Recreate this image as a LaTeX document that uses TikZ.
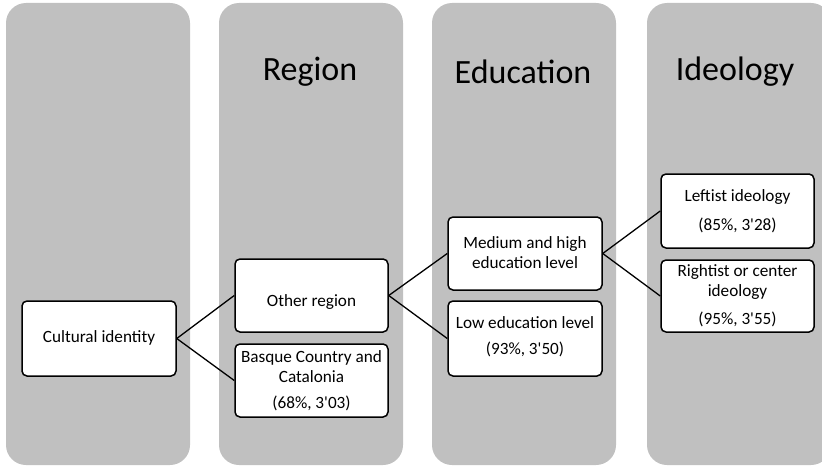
\documentclass[tikz,border=0pt]{standalone}
\usepackage{fontspec}
\setmainfont{Carlito}[Ligatures=TeXOff]
\definecolor{colgray}{RGB}{192,192,192}
\tikzset{
  column/.style={fill=colgray, draw=none, rounded corners=20pt},
  box/.style={draw=black, line width=1.5pt, fill=white, rounded corners=5pt, minimum width=#1, inner sep=0pt},
  box/.default=153pt,
  txt/.style={font=\fontsize{17.2}{20}\selectfont, align=center, inner sep=0pt, anchor=center},
  title/.style={font=\fontsize{34}{38}\selectfont, inner sep=0pt},
  conn/.style={line width=1.3pt}
}
\begin{document}
\begin{tikzpicture}[x=1pt,y=-1pt]
\useasboundingbox (0,0) rectangle (822,468);
\begin{scope}
\clip (0,0) rectangle (822,468);
\fill[column] (6,3) rectangle (190,465);
\fill[column] (219,3) rectangle (403,465);
\fill[column] (432,3) rectangle (616,465);
\fill[column] (647,3) rectangle (831,465);
\end{scope}
\node[title] (tregion) at (310,72) {Region};
\node[title] (teducation) at (523,72) {Education};
\node[title] (tideology) at (735,72) {Ideology};

% boxes
\node[box=154pt, minimum height=75pt] (cult) at (99,338.5) {};
\node[box, minimum height=73pt] (other) at (311.5,295.5) {};
\node[box, minimum height=73pt] (basque) at (311.5,380.5) {};
\node[box=154pt, minimum height=73pt] (medium) at (525,253.5) {};
\node[box=154pt, minimum height=75pt] (low) at (525,338.5) {};
\node[box, minimum height=74pt] (left) at (737.5,211) {};
\node[box, minimum height=72pt] (right) at (737.5,296) {};

% texts
\node[txt] (tcult) at (99,338) {Cultural identity};
\node[txt] (tother) at (311.5,302) {Other region};
\node[txt] (tbasque) at (311.5,367) {Basque Country and\\Catalonia};
\node[txt] (tbasque2) at (311.5,403) {(68\%, 3'03)};
\node[txt] (tmedium) at (525,252.5) {Medium and high\\education level};
\node[txt] (tlow) at (525,323) {Low education level};
\node[txt] (tlow2) at (525,349) {(93\%, 3'50)};
\node[txt] (tleft) at (737.5,197) {Leftist ideology};
\node[txt] (tleft2) at (737.5,225) {(85\%, 3'28)};
\node[txt] (tright) at (737.5,282.5) {Rightist or center\\ideology};
\node[txt] (tright2) at (737.5,319) {(95\%, 3'55)};

% connectors
\draw[conn] (cult.east) -- (other.west);
\draw[conn] (cult.east) -- (basque.west);
\draw[conn] (other.east) -- (medium.west);
\draw[conn] (other.east) -- (low.west);
\draw[conn] (medium.east) -- (left.west);
\draw[conn] (medium.east) -- (right.west);
\end{tikzpicture}
\end{document}
